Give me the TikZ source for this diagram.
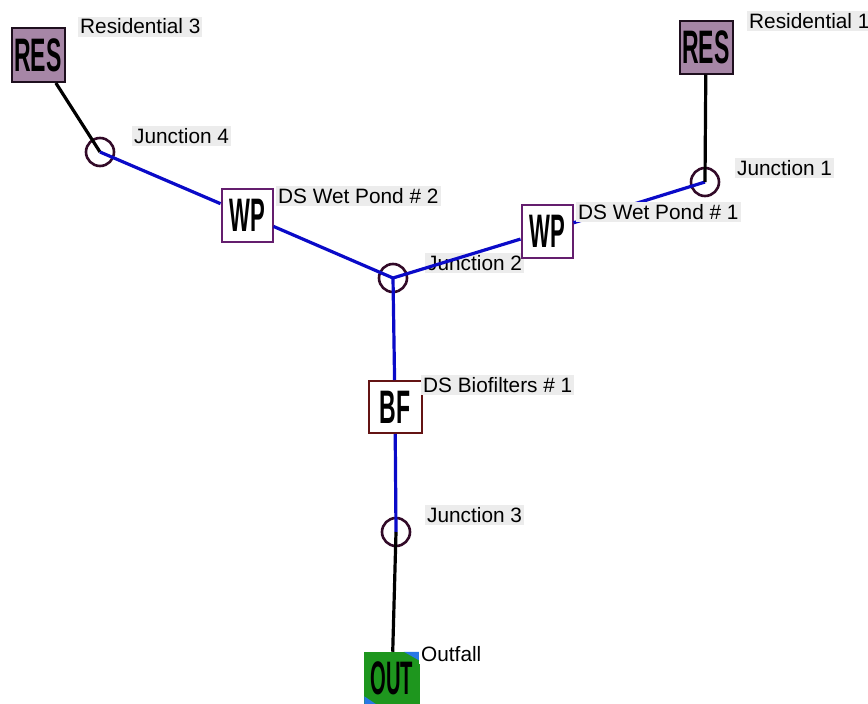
\documentclass[tikz,border=0pt]{standalone}
\usepackage{fontspec}
\setmainfont{Liberation Sans}
\definecolor{resfill}{RGB}{166,134,166}
\definecolor{resborder}{RGB}{30,15,30}
\definecolor{wpborder}{RGB}{100,30,110}
\definecolor{bfborder}{RGB}{100,20,20}
\definecolor{juncc}{RGB}{50,10,40}
\definecolor{pipeblue}{RGB}{10,10,200}
\definecolor{outgreen}{RGB}{30,150,30}
\definecolor{outblue}{RGB}{40,120,230}
\definecolor{lblgray}{RGB}{236,236,236}
\newcommand\boxtxt[2]{\scalebox{#1}[1]{\fontsize{47}{47}\selectfont\bfseries #2}}
\begin{document}
\begin{tikzpicture}[x=1pt,y=-1pt,
  lbl/.style={anchor=west, fill=lblgray, inner sep=2pt, text height=15pt, text depth=1pt, font=\fontsize{20.8}{22}\selectfont},
  junc/.style={circle, draw=juncc, line width=2.6pt, minimum size=28pt, inner sep=0pt},
  elem/.style={draw, line width=2pt, minimum width=51pt, minimum height=53pt, inner sep=0pt, fill=white},
  bluel/.style={draw=pipeblue, line width=3.2pt},
  blackl/.style={draw=black, line width=3.2pt}]
\fill[white] (0,0) rectangle (868,704);
\useasboundingbox (0,0) rectangle (868,704);
% label under the pipe
\node[lbl] (lj2) at (425,263) {Junction 2};
% elements
\node[elem, draw=resborder, fill=resfill, minimum width=53pt, minimum height=54pt] (res3) at (38,55) {\boxtxt{0.49}{RES}};
\node[elem, draw=resborder, fill=resfill, minimum width=53pt, minimum height=53pt] (res1) at (706,47) {\boxtxt{0.49}{RES}};
\node[elem, draw=wpborder] (wp2) at (247,215) {\boxtxt{0.47}{WP}};
\node[elem, draw=wpborder] (wp1) at (547,231) {\boxtxt{0.47}{WP}};
\node[elem, draw=bfborder, minimum width=53pt, minimum height=52pt] (bf) at (395,407) {\boxtxt{0.49}{BF}};
\node[elem, draw=outgreen, fill=outgreen, line width=0.5pt, minimum width=55pt, minimum height=52pt] (out) at (392,678) {};
\fill[outblue] (out.north east) -- ++(-16,0) -- ++(16,9) -- cycle;
\fill[outblue] (out.south west) -- ++(12,0) -- ++(-12,-8) -- cycle;
\node at (out.center) {\boxtxt{0.43}{OUT}};
% junctions
\node[junc] (j4) at (100,152) {};
\node[junc] (j2) at (393,278) {};
\node[junc] (j1) at (705,182) {};
\node[junc] (j3) at (396,532) {};
% pipes
\draw[blackl] (res3) -- (j4.center);
\draw[bluel] (j4.center) -- (wp2);
\draw[bluel] (wp2) -- (j2.center);
\draw[bluel] (j2.center) -- (wp1);
\draw[bluel] (wp1) -- (j1.center);
\draw[blackl] (res1) -- (j1.center);
\draw[bluel] (j2.center) -- (bf);
\draw[bluel] (bf) -- (j3.center);
\draw[blackl] (j3.center) -- (out);
% labels
\node[lbl] (lres3) at (78,27) {Residential 3};
\node[lbl] (lres1) at (747,21) {Residential 1};
\node[lbl] (lj4) at (132,136) {Junction 4};
\node[lbl] (lj1) at (735,168) {Junction 1};
\node[lbl] (lwp2) at (276,196) {DS Wet Pond \# 2};
\node[lbl] (lwp1) at (576,212) {DS Wet Pond \# 1};
\node[lbl] (lbf) at (421,385) {DS Biofilters \# 1};
\node[lbl] (lj3) at (425,515) {Junction 3};
\node[lbl, fill=white] (lout) at (419,654) {Outfall};
\end{tikzpicture}
\end{document}
